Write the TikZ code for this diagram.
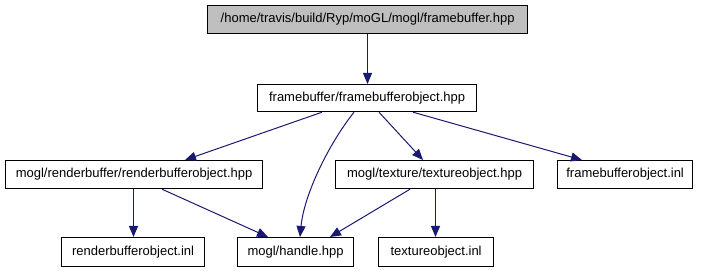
\documentclass[tikz,border=0pt]{standalone}
\usepackage{fontspec}
\setmainfont{Liberation Sans}
\usetikzlibrary{arrows.meta}
\definecolor{edgeblue}{HTML}{191970}
\definecolor{rootgray}{HTML}{BFBFBF}
\begin{document}
\begin{tikzpicture}[x=1pt,y=-1pt,
  file/.style={draw=black,line width=1.2pt,fill=white,inner sep=0pt,anchor=north west},
  label/.style={font=\fontsize{13}{15}\selectfont,inner sep=0pt},
  dep/.style={draw=edgeblue,line width=1pt,
    -{Triangle[width=9pt,length=11pt,fill=edgeblue]}}]
\useasboundingbox (0,0) rectangle (701,272);
% file boxes, given by their corners
\newcommand{\filebox}[6][]{%
  \node[file,#1,minimum width=#4-#2,minimum height=#5-#3] (#6) at (#2,#3) {};}
\filebox[fill=rootgray]{207}{5}{527}{33}{root}
\filebox{257}{84}{476}{111}{fbo}
\filebox{5}{160}{262}{188}{rbo}
\filebox{335}{160}{533}{188}{tex}
\filebox{557}{160}{692}{188}{fboinl}
\filebox{61}{237}{204}{266}{rboinl}
\filebox{237}{237}{353}{266}{handle}
\filebox{378}{237}{493}{266}{texinl}
% labels
\node[label] at (root) {/home/travis/build/Ryp/moGL/mogl/framebuffer.hpp};
\node[label] at (fbo) {framebuffer/framebufferobject.hpp};
\node[label] at (rbo) {mogl/renderbuffer/renderbufferobject.hpp};
\node[label] at (tex) {mogl/texture/textureobject.hpp};
\node[label] at (fboinl) {framebufferobject.inl};
\node[label] at (rboinl) {renderbufferobject.inl};
\node[label] at (handle) {mogl/handle.hpp};
\node[label] at (texinl) {textureobject.inl};
% dependencies
\draw[dep] (root.south -| 367.5,0) -- (fbo.north -| 367.5,0);
\draw[dep] (fbo.south -| 322,0) -- (rbo.north -| 185,0);
\draw[dep] (fbo.south -| 354,0) .. controls (328,145) and (304,195) .. (handle.north -| 300,0);
\draw[dep] (fbo.south -| 379,0) -- (tex.north -| 423,0);
\draw[dep] (fbo.south -| 413,0) -- (fboinl.north -| 582,0);
\draw[dep] (rbo.south -| 133.5,0) -- (rboinl.north -| 133.5,0);
\draw[dep] (rbo.south -| 162,0) -- (handle.north -| 268,0);
\draw[dep] (tex.south -| 410,0) -- (handle.north -| 330,0);
\draw[dep] (tex.south -| 435.5,0) -- (texinl.north -| 435.5,0);
\end{tikzpicture}
\end{document}
